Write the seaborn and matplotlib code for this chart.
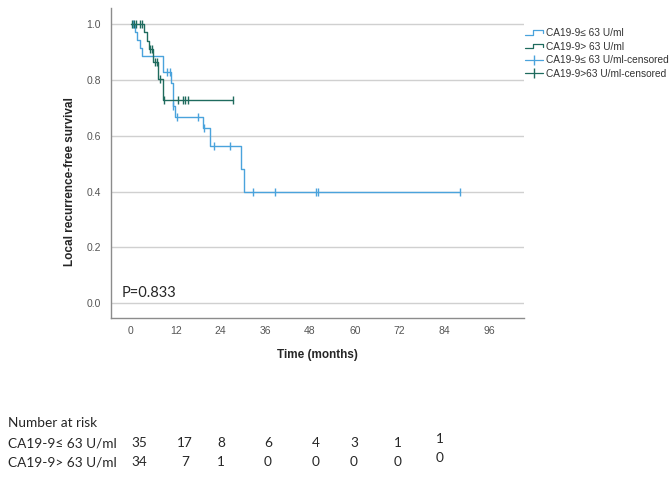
import matplotlib
matplotlib.use("Agg")
import matplotlib.pyplot as plt
import seaborn as sns
import pandas as pd
from matplotlib.lines import Line2D
from matplotlib.legend_handler import HandlerBase

# Kaplan-Meier steps (time in months, survival)
low_time = [0, 1.15, 1.6, 2.5, 3.1, 8.6, 10.7, 11.3, 11.9, 19.2, 21.3, 29.5, 30.2, 88.3]
low_surv = [1.0, 0.971, 0.943, 0.914, 0.886, 0.827, 0.79, 0.708, 0.668, 0.626, 0.562, 0.48, 0.40, 0.40]
low_cens_time = [0.6, 9.6, 10.5, 11.4, 12.3, 18.1, 19.7, 22.4, 26.6, 32.6, 38.7, 49.6, 50.2, 88.3]
low_cens_surv = [1.0, 0.827, 0.827, 0.708, 0.668, 0.668, 0.626, 0.562, 0.562, 0.40, 0.40, 0.40, 0.40, 0.40]

high_time = [0, 3.4, 4.3, 4.8, 6.0, 7.2, 8.5, 27.5]
high_surv = [1.0, 0.97, 0.94, 0.912, 0.864, 0.803, 0.729, 0.729]
high_cens_time = [0.3, 0.8, 1.5, 2.4, 3.0, 5.0, 5.6, 6.6, 7.0, 7.9, 8.8, 12.5, 14.0, 14.6, 15.4, 27.5]
high_cens_surv = [1.0, 1.0, 1.0, 1.0, 1.0, 0.912, 0.912, 0.864, 0.864, 0.803, 0.729, 0.729, 0.729, 0.729, 0.729, 0.729]

labels = ["CA19-9\u2264 63 U/ml", "CA19-9> 63 U/ml",
          "CA19-9\u2264 63 U/ml-censored", "CA19-9>63 U/ml-censored"]
risk_rows = ["CA19-9\u2264 63 U/ml", "CA19-9> 63 U/ml"]
risk_low = [35, 17, 8, 6, 4, 3, 1, 1]
risk_high = [34, 7, 1, 0, 0, 0, 0, 0]
p_text = "P=0.833"

c_low = "#4aa3dc"
c_high = "#1f6b5e"

sns.set_style("white")
plt.rcParams["font.family"] = ["Liberation Sans", "DejaVu Sans"]

fig = plt.figure(figsize=(6.69, 4.79), dpi=100)
ax = fig.add_axes([0.1655, 0.336, 0.618, 0.647])

low = pd.DataFrame({"t": low_time, "s": low_surv})
high = pd.DataFrame({"t": high_time, "s": high_surv})
sns.lineplot(data=low, x="t", y="s", ax=ax, color=c_low, lw=1.0,
             drawstyle="steps-post", estimator=None, sort=False, zorder=3)
sns.lineplot(data=high, x="t", y="s", ax=ax, color=c_high, lw=1.0,
             drawstyle="steps-post", estimator=None, sort=False, zorder=4)
ax.plot(low_cens_time, low_cens_surv, ls="none", marker="|", ms=6, mew=1.0, color=c_low, zorder=3)
ax.plot(high_cens_time, high_cens_surv, ls="none", marker="|", ms=6, mew=1.0, color=c_high, zorder=4)

ax.set_xlim(-5.4, 105.4)
ax.set_ylim(-0.053, 1.057)
ax.set_xticks(range(0, 97, 12))
ax.set_yticks([0, 0.2, 0.4, 0.6, 0.8, 1.0])
ax.set_yticklabels(["0.0", "0.2", "0.4", "0.6", "0.8", "1.0"])
ax.yaxis.grid(True, color="#d0d0d0", lw=1.0)
ax.set_axisbelow(True)
for s in ["top", "right"]:
    ax.spines[s].set_visible(False)
for s in ["left", "bottom"]:
    ax.spines[s].set_color("#8c8c8c")
    ax.spines[s].set_linewidth(1.0)
ax.tick_params(length=0, labelsize=7.5, labelcolor="#555555")
ax.tick_params(axis="y", pad=7)
ax.tick_params(axis="x", pad=6)
ax.set_xlabel("Time (months)", fontsize=8.5, fontweight="bold", labelpad=9)
ax.set_ylabel("Local recurrence-free survival", fontsize=8.5, fontweight="bold")
ax.yaxis.set_label_coords(-0.085, 0.44)

ax.text(121.7 / 669, 1 - 293 / 479, p_text, transform=fig.transFigure, fontsize=10.5,
        family=["Lato", "DejaVu Sans"], va="center", ha="left")


class StepHandler(HandlerBase):
    def create_artists(self, legend, orig_handle, xdescent, ydescent, width, height, fontsize, trans):
        x0 = -xdescent
        xs = [x0, x0 + 0.45 * width, x0 + 0.45 * width, x0 + width, x0 + width]
        ys = [0.2 * height, 0.2 * height, 0.8 * height, 0.8 * height, 0.4 * height]
        ln = Line2D(xs, ys, color=orig_handle.get_color(), lw=0.9, transform=trans)
        return [ln]


h1 = Line2D([], [], color=c_low)
h2 = Line2D([], [], color=c_high)
h3 = Line2D([], [], color=c_low, marker="|", ms=7, lw=0.9)
h4 = Line2D([], [], color=c_high, marker="|", ms=7, lw=0.9)
leg = fig.legend([h1, h2, h3, h4], labels, loc="upper left",
                 bbox_to_anchor=(525 / 669, 1 - 28 / 479), frameon=False,
                 fontsize=7.3, handlelength=1.8, handletextpad=0.3, labelspacing=0.35,
                 borderpad=0, borderaxespad=0,
                 handler_map={h1: StepHandler(), h2: StepHandler()})
for t in leg.get_texts():
    t.set_color("#333333")

# number at risk table
col_px = [139, 185, 221, 268, 316, 354, 398, 440]
tfam = ["Lato", "DejaVu Sans"]
fs = 9.8
fig.text(8 / 669, 1 - 423 / 479, "Number at risk", fontsize=fs, family=tfam, va="center")
for i, (name, vals) in enumerate(zip(risk_rows, [risk_low, risk_high])):
    y = 1 - (443 + 19.5 * i) / 479
    fig.text(8 / 669, y, name, fontsize=fs, family=tfam, va="center")
    for j, (xp, v) in enumerate(zip(col_px, vals)):
        dy = 4 / 479 if j == len(vals) - 1 else 0
        fig.text(xp / 669, y + dy, str(v), fontsize=fs, family=tfam, va="center", ha="center")

fig.savefig("out.png", dpi=100)
